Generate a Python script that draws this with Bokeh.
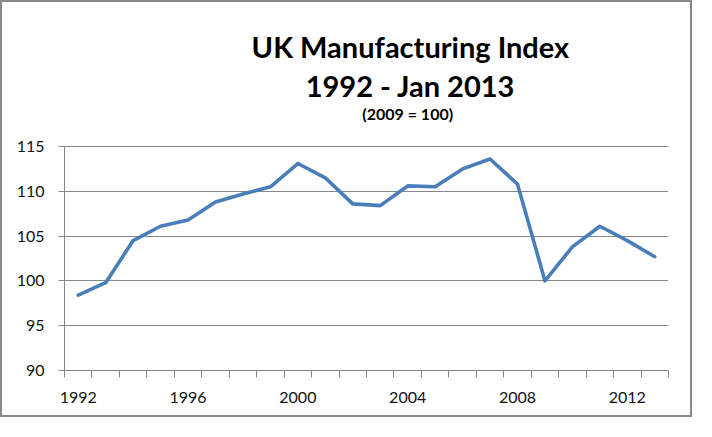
from bokeh.plotting import figure
from bokeh.models import Range1d, FixedTicker, NumeralTickFormatter, Label
from bokeh.embed import file_html
from bokeh.resources import INLINE

years = [1992, 1993, 1994, 1995, 1996, 1997, 1998, 1999, 2000, 2001, 2002,
         2003, 2004, 2005, 2006, 2007, 2008, 2009, 2010, 2011, 2012, 2013]
index_values = [98.4, 99.8, 104.5, 106.1, 106.8, 108.8, 109.7, 110.5, 113.1, 111.5, 108.6,
                108.4, 110.6, 110.5, 112.5, 113.6, 110.8, 100.0, 103.8, 106.1, 104.5, 102.7]
x_tick_labels = [1992, 1996, 2000, 2004, 2008, 2012]
y_ticks = [90, 95, 100, 105, 110, 115]
title_lines = ["UK Manufacturing Index", "1992 - Jan 2013", "(2009 = 100)"]

GRAY = "#868686"
FONT = "Lato"

# the y range continues above 115 so that the title block sits inside the frame
p = figure(width=692, height=417, output_backend="svg", toolbar_location=None,
           x_range=Range1d(years[0] - 0.5, years[-1] + 0.5),
           y_range=Range1d(y_ticks[0], 131.07),
           min_border_left=62, min_border_right=26, min_border_top=0, min_border_bottom=49)
p.outline_line_color = None
p.background_fill_color = "white"
p.border_fill_color = "white"
p.styles = {"border": "2px solid #898989"}

p.line(years, index_values, line_color="#4a7ebb", line_width=3.6, line_join="round", line_cap="round")

# x axis: category boundaries as tick marks, labels every 4 years
p.xaxis.ticker = FixedTicker(ticks=x_tick_labels,
                             minor_ticks=[y - 0.5 for y in years] + [years[-1] + 0.5])
p.xaxis.formatter = NumeralTickFormatter(format="0")
p.xaxis.major_tick_out = 0
p.xaxis.major_tick_in = 0
p.xaxis.minor_tick_out = 7
p.xaxis.minor_tick_in = 0
p.xaxis.minor_tick_line_color = GRAY
p.xaxis.axis_line_color = GRAY
p.xaxis.major_label_standoff = 14
p.xaxis.major_label_text_font = FONT
p.xaxis.major_label_text_font_size = "16px"
p.xaxis.major_label_text_color = "#111111"
p.xgrid.grid_line_color = None

p.yaxis.ticker = FixedTicker(ticks=y_ticks)
p.yaxis.bounds = (y_ticks[0], y_ticks[-1])
p.yaxis.formatter = NumeralTickFormatter(format="0")
p.yaxis.major_tick_out = 6
p.yaxis.major_tick_in = 0
p.yaxis.minor_tick_out = 0
p.yaxis.minor_tick_in = 0
p.yaxis.major_tick_line_color = GRAY
p.yaxis.axis_line_color = GRAY
p.yaxis.major_label_standoff = 14
p.yaxis.major_label_text_font = FONT
p.yaxis.major_label_text_font_size = "16px"
p.yaxis.major_label_text_color = "#111111"
p.ygrid.grid_line_color = GRAY
p.ygrid.grid_line_width = 1

# titles
p.add_layout(Label(x=2004.1, y=126.16, text=title_lines[0], text_align="center",
                   text_baseline="alphabetic", text_font=FONT, text_font_style="bold",
                   text_font_size="29px", text_color="black"))
p.add_layout(Label(x=2004.1, y=121.81, text=title_lines[1], text_align="center",
                   text_baseline="alphabetic", text_font=FONT, text_font_style="bold",
                   text_font_size="29px", text_color="black"))
p.add_layout(Label(x=2004.0, y=118.63, text=title_lines[2], text_align="center",
                   text_baseline="alphabetic", text_font=FONT, text_font_style="bold",
                   text_font_size="16px", text_color="black"))

open("out.html", "w").write(file_html(p, INLINE))
